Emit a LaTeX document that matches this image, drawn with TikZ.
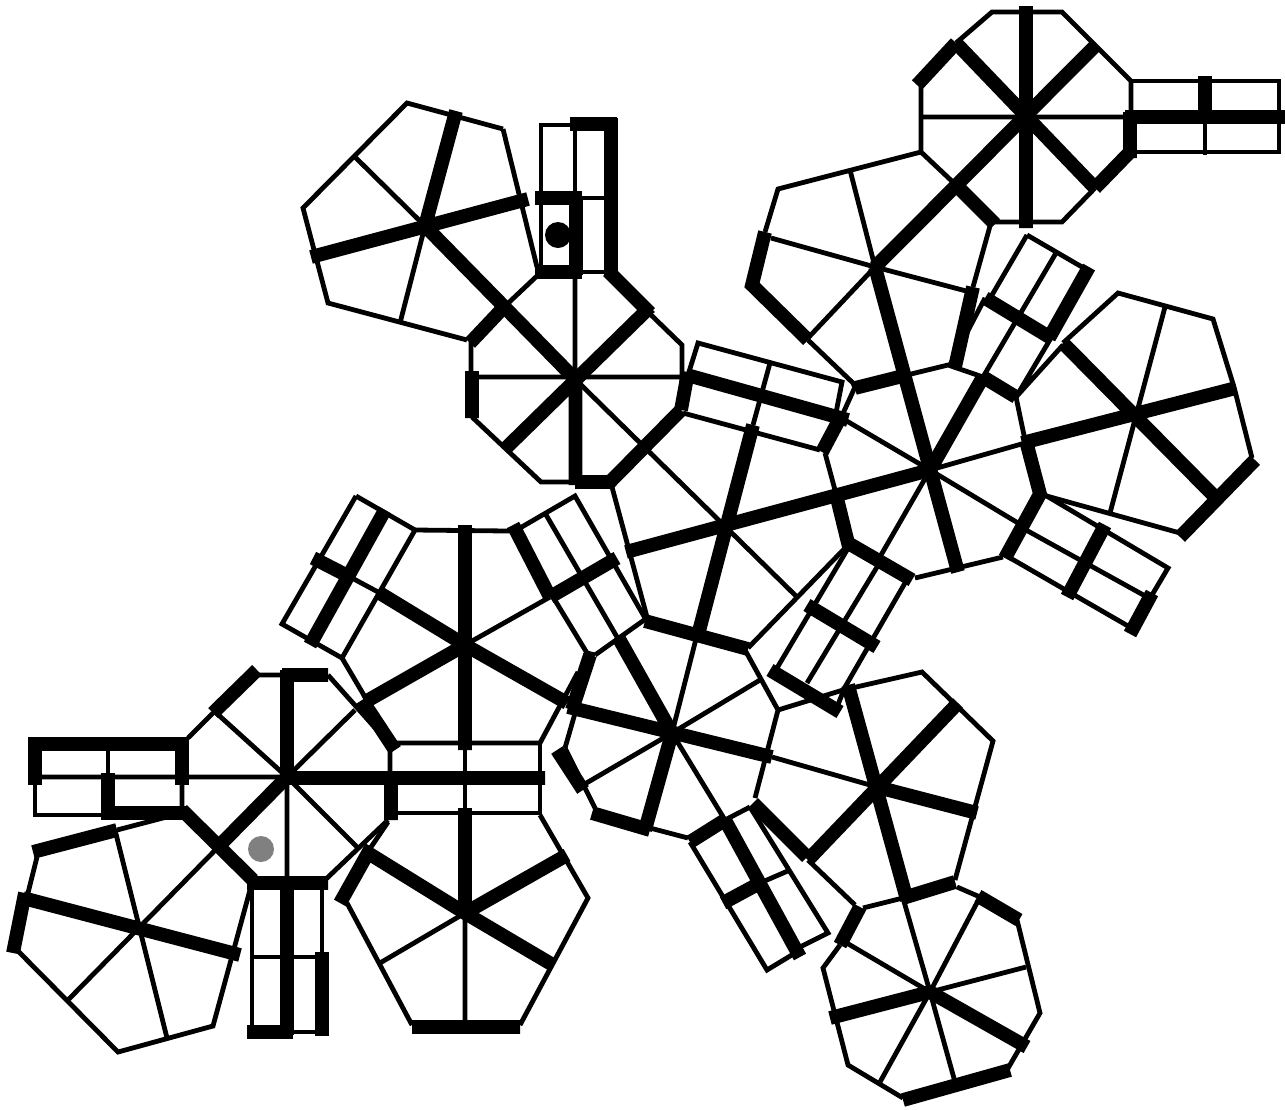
\documentclass[tikz,border=0pt]{standalone}
\usepackage{xcolor}
\usetikzlibrary{calc}
\tikzset{
  wall/.style={line width=2.4pt, black},
  beam/.style={line width=6.9pt, black},
  marker/.style={circle, inner sep=0pt, minimum size=13pt}
}
\begin{document}
\begin{tikzpicture}[x=0.5pt, y=-0.5pt]
    \useasboundingbox (0, 0) rectangle (1285, 1109);

    % Upper left room
    \draw[wall] (503,129) -- (407,103) -- (303,208) -- (328,303) -- (467,340);
    \draw[wall] (503,129) -- (537,267) (355,157) -- (425,226) -- (400,323);
    \draw[beam] (456,111) -- (425,226) (528,199) -- (311,257) (425,226) -- (574,378);

    % Octagon below it
    \draw[wall] (538,275) -- (503,308) (471,342) -- (471,371) (472,417) -- (541,482) -- (578,482);
    \draw[wall] (648,312) -- (682,345) -- (682,408) (575,378) -- (575,275) (472,377) -- (682,377);
    \draw[wall] (574,378) -- (797,597);
    \draw[beam] (608,271) -- (650,313) (470,343) -- (505,306) (472,371) -- (472,418);
    \draw[beam] (505,449) -- (650,307) (575.5,378) -- (575.5,485) (575,482) -- (610,482) -- (681,410);

    % Door strip with the black marker
    \draw[wall] (570,125) -- (541,125) -- (541,272) (575,125) -- (575,195) (582,198) -- (611,198) (582,272) -- (611,272);
    \draw[beam] (570,124) -- (617,124) (611,118) -- (611,275) (535,198) -- (582,198) (576,198) -- (576,275) (535,272) -- (582,272);
    \node[marker, fill=black] (mark1) at (558,235) {};

    % Upper right octagon
    \draw[wall] (956,43) -- (992,12) -- (1062,12) -- (1131,81) -- (1131,117) (921,83) -- (921,152) -- (956,185);
    \draw[wall] (994,222) -- (1062,222) -- (1095,188) (921,117) -- (1131,117);
    \draw[beam] (956,43) -- (917,85) (1026,6) -- (1026,228) (1096,45) -- (875,267) (956,43) -- (1095,188);
    \draw[beam] (956,185) -- (995,224) (1095,188) -- (1130,152) (1130,112) -- (1130,158);

    % Strip to the right of it
    \draw[wall] (1131,81) -- (1279,81) -- (1279,152) -- (1131,152) (1205,123) -- (1205,155);
    \draw[beam] (1125,117) -- (1285,117) (1205,76) -- (1205,123);

    % Room below the octagon
    \draw[wall] (921,152) -- (778,189) -- (765,232) (850,170) -- (875,267) -- (771,238) (808,338) -- (875,267) -- (970,292);
    \draw[wall] (808,340) -- (853,383) -- (855,388) (973,287) -- (990,226);
    \draw[beam] (765,232) -- (752,285) -- (808,340) (875,267) -- (958,572) (855,388) -- (907,375) (955,367) -- (973,287);

    % Strip on the right of that room
    \draw[wall] (1027,235) -- (1082,267) (1027,235) -- (992,295) (1056,253) -- (983,377) (985,298) -- (950,365);
    \draw[wall] (1051,338) -- (1016,397) -- (1063,345);
    \draw[beam] (1089,267) -- (1049,338) (985,298) -- (1051,338);

    % Right room
    \draw[wall] (1063,343) -- (1118,293) -- (1213,319) -- (1234,387) -- (1252,458) (1165,307) -- (1110,513) (1180,533) -- (1043,495);
    \draw[beam] (1063,343) -- (1213,495) (1022,443) -- (1236,388) (1255,460) -- (1180,537);

    % Central room
    \draw[wall] (907,375) -- (948,365) -- (983,377) (1016,397) -- (1025,440) (835,490) -- (825,453) (840,420) -- (855,387);
    \draw[wall] (1003,557) -- (915,578) (930,470) -- (877,562) (930,470) -- (845,420) (930,470) -- (1018,523) (930,470) -- (1025,443);
    \draw[beam] (983,377) -- (1016,397) (983,377) -- (930,470) (1026,441) -- (1040,494) -- (1005,558) (912,580) -- (848,543) -- (835,490) (822,452) -- (840,418) (930,470) -- (626,552);

    % Strip on the lower right of the central room
    \draw[wall] (1045,495) -- (1168,568) -- (1152,595) (1005,555) -- (1128,626) (1017,525) -- (1147,597);
    \draw[beam] (1105,525) -- (1067,597) (1152,593) -- (1130,634);

    % Room in the middle
    \draw[wall] (612,487) -- (647,617) (748,648) -- (848,545);
    \draw[beam] (753,425) -- (698,635) (645,621) -- (748,649);

    % Strip on top of the middle room
    \draw[wall] (688,375) -- (698,343) -- (842,382) -- (835,418) (770,363) -- (753,425) (683,413) -- (820,450);
    \draw[beam] (687,375) -- (848,420) (688,372) -- (681,410);

    % Strip below the central room
    \draw[wall] (847,550) -- (777,668) (877,567) -- (807,683) (905,583) -- (845,687) -- (837,707);
    \draw[beam] (807,605) -- (877,647) (770,670) -- (840,712);

    % Lower right room
    \draw[wall] (778,710) -- (843,690) -- (922,672) -- (993,741) -- (955,880) (955,882) -- (903,898) -- (863,908) (808,860) -- (855,905);
    \draw[wall] (877,787) -- (772,757);
    \draw[beam] (808,860) -- (958,703) (753,803) -- (807,857) (848,685) -- (907,900) (903,898) -- (955,882) (877,787) -- (977,813);

    % Room below the middle room
    \draw[wall] (565,748) -- (595,808) (650,828) -- (688,838) (725,820) -- (750,807) (755,798) -- (778,710) -- (745,650);
    \draw[wall] (565,748) -- (578,703) (595,655) -- (647,618) (672,733) -- (697,635) (672,733) -- (760,680) (672,733) -- (583,785) (672,733) -- (725,820);
    \draw[beam] (557,750) -- (583,790) (592,813) -- (650,830) (690,842) -- (725,820) (618,637) -- (672,733) (568,707) -- (772,757) (672,733) -- (645,830) (590,655) -- (572,710);

    % Strip below that room
    \draw[wall] (690,842) -- (767,970) -- (800,950) (800,947) -- (828,933) -- (750,807) (760,883) -- (790,870);
    \draw[beam] (725,820) -- (800,957) (723,903) -- (760,883);

    % Bottom right room
    \draw[wall] (957,887) -- (980,897) (1017,920) -- (1040,1013) -- (1007,1070) (903,1098) -- (848,1065) -- (823,968) -- (840,945);
    \draw[wall] (930,992) -- (903,898) (930,992) -- (980,897) (930,992) -- (1026,967) (930,992) -- (955,1082) (930,992) -- (880,1082) (930,992) -- (845,942);
    \draw[beam] (978,896) -- (1019,920) (1010,1070) -- (903,1100) (840,945) -- (860,907) (930,992) -- (1027,1047) (930,992) -- (830,1018);

    % Hexagon room
    \draw[wall] (415,530) -- (508,531) -- (520,528) (553,597) -- (587,653) -- (595,655) (578,672) -- (540,743) -- (395,743) (365,697) -- (342,658) -- (415,530);
    \draw[wall] (465,645) -- (550,597) (378,592) -- (352,578);
    \draw[beam] (465,525) -- (465,750) (513,525) -- (550,597) (362,700) -- (395,750) (465,645) -- (378,592) (352,578) -- (313,558);
    \draw[beam] (465,645) -- (365,702) (465,645) -- (567,703) (550,597) -- (617,558);

    % Strips on both sides of the hexagon
    \draw[wall] (356,496) -- (415,530) (356,496) -- (282,624) -- (342,658);
    \draw[beam] (385,510) -- (310,645);
    \draw[wall] (520,528) -- (575,496) -- (645,618) (545,513) -- (617,637);

    % Strip below the hexagon
    \draw[wall] (540,743) -- (540,815) (395,813) -- (540,813) (465,750) -- (465,808);

    % Left octagon
    \draw[wall] (258,675) -- (282,675) (213,713) -- (188,738) (328,675) -- (377,730) -- (390,750) -- (390,773) (388,820) -- (325,880);
    \draw[wall] (182,785) -- (182,810) (35,777) -- (287,777) (287,777) -- (213,710) (287,777) -- (355,710) (287,777) -- (357,847) (287,777) -- (287,883) (287,777) -- (68,1000);
    \draw[beam] (257,670) -- (213,713) (282,675) -- (328,675) (287,670) -- (287,777) (287,778) -- (545,778) (391,773) -- (391,820);
    \draw[beam] (247,883) -- (328,883) (253,880) -- (182,810) (287,777) -- (215,850);

    % Strip on the left
    \draw[wall] (108,744) -- (108,773) (35,785) -- (35,815) -- (102,815);
    \draw[beam] (28,744) -- (188,744) (35,738) -- (35,785) (182,738) -- (182,785) (102,813) -- (188,813) (108,773) -- (108,820);
    \node[marker, fill=black!50] (mark2) at (261,849) {};

    % Lower left room
    \draw[wall] (117,830) -- (182,813) (37,857) -- (28,893) (17,950) -- (118,1052) -- (213,1026) -- (250,890);
    \draw[wall] (115,830) -- (167,1038);
    \draw[beam] (33,852) -- (117,830) (25,893) -- (13,953) (23,898) -- (240,955);

    % Strip below the left octagon
    \draw[wall] (252,880) -- (252,1030) (322,880) -- (322,960) (250,957) -- (322,957) (293,1032) -- (322,1032);
    \draw[beam] (287,880) -- (287,1035) (322,952) -- (322,1036) (247,1032) -- (293,1032);

    % Bottom room
    \draw[wall] (388,822) -- (367,853) (347,903) -- (412,1025) (520,1025) -- (588,898) -- (540,815) (465,913) -- (380,963) (465,913) -- (465,1027);
    \draw[beam] (465,808) -- (465,913) (567,855) -- (465,913) -- (368,853) -- (340,903) (465,913) -- (553,965) (412,1027) -- (520,1027);
\end{tikzpicture}
\end{document}
